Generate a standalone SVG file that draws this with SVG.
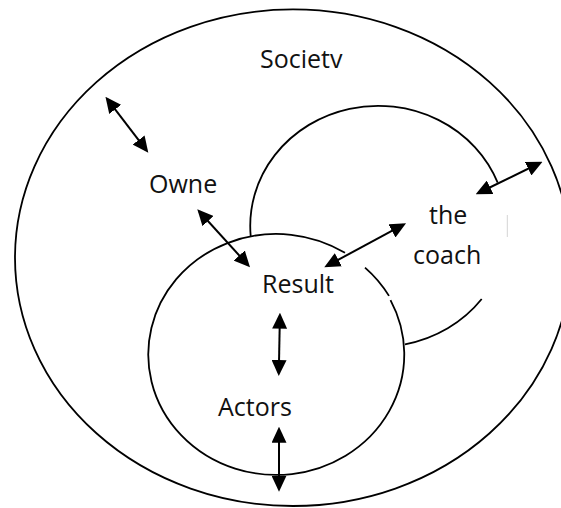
<svg xmlns="http://www.w3.org/2000/svg" width="561" height="508" viewBox="0 0 561 508">
  <style>
    .ring { fill: none; stroke: #000; stroke-width: 1.8; }
    .link { fill: none; stroke: #000; stroke-width: 2; marker-start: url(#head); marker-end: url(#head); }
    .label { font-family: "Open Sans", "Liberation Sans", sans-serif; font-size: 25px; fill: #111; }
  </style>
  <defs>
    <marker id="head" viewBox="0 0 16 15" refX="13" refY="7.5" markerWidth="16" markerHeight="15" markerUnits="userSpaceOnUse" orient="auto-start-reverse">
      <path d="M0,0 L16,7.5 L0,15 z" fill="#000"/>
    </marker>
  </defs>
  <rect width="561" height="508" fill="#fff"/>

  <!-- outer boundary: society -->
  <g id="society">
    <ellipse class="ring" cx="293" cy="257.7" rx="278" ry="248.3"/>
    <text class="label" x="260" y="68">Societv</text>
  </g>

  <!-- coach circle, partly hidden behind the result circle and the text box -->
  <g id="coach">
    <path class="ring" d="M250.7,236 A128,120 0 0 1 497.7,182.7"/>
    <path class="ring" d="M481.7,299 A128,120 0 0 1 405,344.3"/>
    <line x1="507.3" y1="215" x2="507.3" y2="237" stroke="#d4d4d4" stroke-width="1"/>
    <text class="label" x="429" y="224">the</text>
    <text class="label" x="413" y="264">coach</text>
  </g>

  <!-- result circle with its small openings on the upper right -->
  <g id="result">
    <path class="ring" d="M365,267.6 A128,120.5 0 0 1 389,295.9"/>
    <path class="ring" d="M390.5,300.1 A128,120.5 0 1 1 345,252.8"/>
    <text class="label" x="262" y="293">Result</text>
  </g>

  <g id="owner">
    <text class="label" x="149" y="193">Owne</text>
  </g>

  <g id="actors">
    <text class="label" x="218" y="416">Actors</text>
  </g>

  <!-- two-way connectors -->
  <g id="connectors">
    <line class="link" x1="107.3" y1="99.1" x2="146.5" y2="150.3"/>
    <line class="link" x1="199.3" y1="211.5" x2="248" y2="265.1"/>
    <line class="link" x1="326.9" y1="265.9" x2="403.4" y2="224.7"/>
    <line class="link" x1="478.4" y1="193" x2="539.8" y2="163"/>
    <line class="link" x1="279.9" y1="315.7" x2="278.8" y2="373"/>
    <line class="link" x1="279" y1="429.7" x2="279" y2="488.7"/>
  </g>
</svg>
